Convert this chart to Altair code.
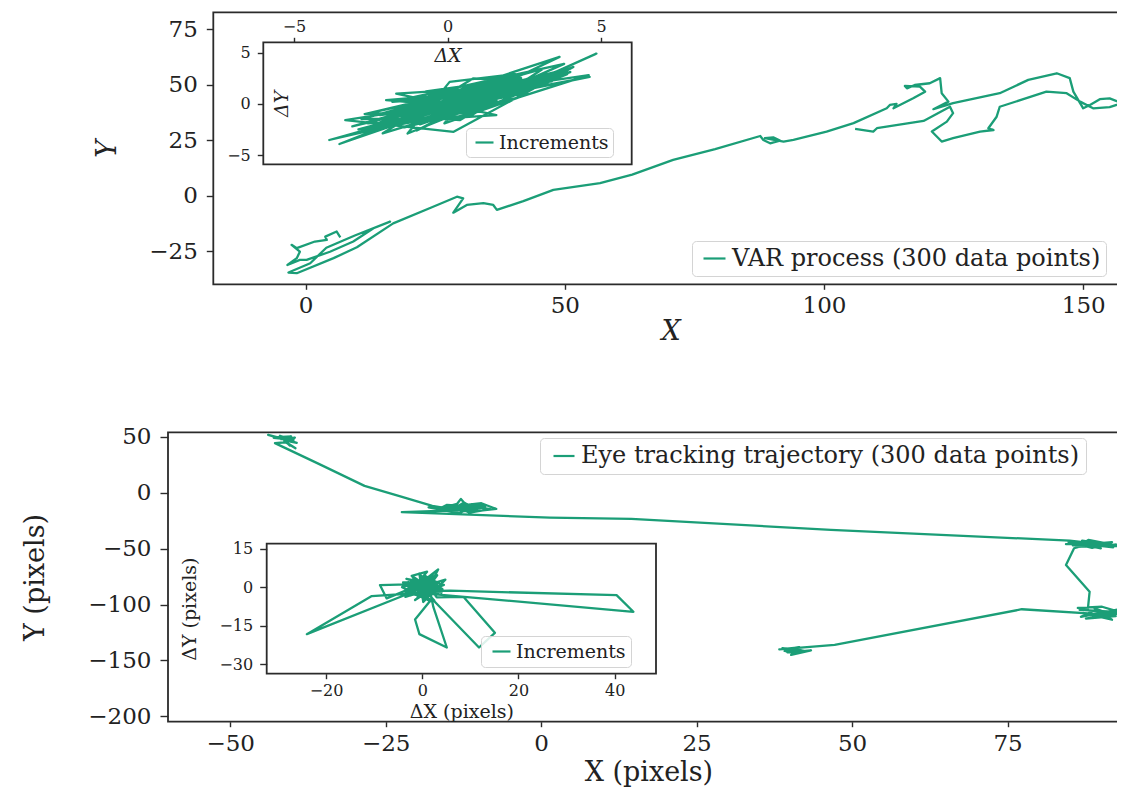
import altair as alt
import pandas as pd

GREEN = "#1b9e77"
DARK = "#2b2b2b"
TXT = "#222222"
FONT = "DejaVu Serif"

# ---------------- top panel: VAR process trajectory ----------------
var_x = [6.7, 6.0, 3.8, 4.1, 1.8, -1.7, -2.7, -1.1, -1.7, -3.5,
         -1.1, 0.2, 4.7, 9.2, 13.1, 16.3, 9.5, 4.0, 0.9, -3.3,
         -1.7, 5.4, 9.9, 16.9, 24.6, 29.2, 30.4, 28.5, 31.1, 34.3,
         36.2, 36.9, 42.0, 47.8, 56.8, 63.0, 70.9, 79.0, 87.7, 88.3,
         89.6, 91.5, 90.2, 88.6, 92.2, 94.1, 100.5, 105.7, 112.1, 112.7,
         114.0, 113.4, 117.2, 119.5, 118.5, 115.6, 116.0, 117.5, 120.4, 122.4,
         122.7, 124.0, 121.1, 124.9, 133.9, 139.4, 144.9, 147.4, 148.1, 149.4,
         150.0, 151.3, 153.2, 155.1, 157.4, 155.1, 151.9, 149.4, 146.8, 142.9,
         133.9, 133.3, 131.7, 132.7, 130.1, 124.9, 122.7, 120.8, 123.7, 124.9,
         124.3, 119.2, 110.2, 109.5, 106.0]
var_y = [-18.8, -16.2, -18.5, -20.0, -20.7, -23.7, -22.2, -25.3, -28.2, -31.3,
         -29.0, -29.0, -25.3, -20.7, -14.7, -11.7, -18.0, -23.5, -30.5, -34.7,
         -35.0, -28.2, -23.3, -12.5, -5.0, -0.5, -1.2, -7.7, -4.2, -3.4,
         -4.2, -6.4, -2.5, 2.6, 5.6, 9.5, 16.1, 21.0, 26.9, 25.1,
         23.6, 24.8, 26.3, 25.9, 24.4, 25.1, 28.9, 32.7, 39.4, 40.9,
         41.4, 39.4, 43.9, 46.9, 49.2, 49.5, 48.4, 49.9, 50.7, 53.0,
         46.2, 42.4, 39.0, 41.7, 46.2, 52.2, 55.2, 53.0, 46.9, 41.7,
         39.4, 40.9, 43.5, 43.9, 41.7, 39.9, 39.4, 42.4, 46.2, 46.9,
         40.1, 35.6, 30.4, 29.6, 28.9, 25.9, 24.4, 28.9, 33.4, 37.2,
         40.1, 33.7, 30.4, 28.9, 30.1]

# increments of the VAR process (inset)
var_dx = [0.0, 1.2, -0.8, 2.1, -1.5, 0.5, 3.0, -0.4, 1.6, -2.2,
          0.9, 3.9, 1.0, -1.9, 2.6, -0.9, 4.6, 0.3, -2.8, 1.9,
          -1.2, 3.65, 0.6, -3.85, 0.1, 2.8, -1.0, 1.4, -2.0, 0.9,
          4.85, 2.0, -0.6, -3.52, 0.4, 3.3, -1.67, 1.59, -2.6, 2.2,
          0.07, -1.3, 4.1, 0.2, -3.33, 1.1, 4.63, -0.5, 2.5, -2.11,
          0.83, 3.4, -0.3, -2.4, 1.7, 4.0, -1.1, 0.6, -2.9, 2.9,
          -0.2, 1.3, -1.6, 3.1, 0.8, -2.4, 1.8, -0.7, 2.4, -1.9, 0.3,
          -1.4, 2.7, -0.9, 3.6, -2.3, 1.0, -0.1, 2.3, -3.0, 1.5,
          -1.8, 3.8, 0.5, -2.7, 2.0, -0.6, 1.2, -1.4, 3.2, 0.0,
          -2.2, 2.6, -0.8, 1.9, -3.1, 0.7, 3.5, -1.0, 0.4, 2.2]
var_dy = [0.0, 0.9, -0.7, 1.6, -1.2, 0.9, 2.4, -1.6, 0.3, -1.1,
          1.5, 2.9, -0.6, -2.2, 2.0, 0.4, 2.8, -1.3, -1.5, 2.4,
          -0.2, 4.58, 0.2, -3.53, -0.8, 2.7, -2.6, 1.2, 0.36, -0.4,
          4.9, 1.0, -0.9, -3.92, 0.7, 1.9, 1.0, -1.1, -1.9, 2.9,
          2.14, -2.9, 3.6, -2.73, -1.59, 0.5, 2.63, -0.3, 1.3, -2.88,
          2.47, 2.2, 0.6, -0.8, 1.9, 3.1, -1.7, -0.2, -2.5, 2.1,
          -1.0, 2.2, -0.5, 3.4, -1.1, -2.0, 0.8, 1.2, 2.5, -1.4, 0.1,
          -0.6, 1.8, -2.0, 2.6, -1.6, 1.9, -1.9, 0.6, -2.9, 0.9,
          0.2, 3.9, -0.5, -1.0, 2.3, 0.8, -0.3, -2.3, 2.9, 0.4,
          -1.8, 1.1, -0.1, 1.4, -2.2, 1.0, 3.1, -1.3, -1.6, 1.7]

# ---------------- bottom panel: eye tracking trajectory ----------------
eye_x = [-41.0, -43.9, -42.5, -40.2, -41.8, -39.6, -40.9, -39.3, -41.5, -40.4,
         -42.0, -40.6, -43.0, -39.8, -41.3,
         -39.5, -41.0, -42.8, -35.5, -28.4, -22.5, -17.5, -15.8, -13.5, -12.9,
         -12.0, -14.8, -10.8, -8.2, -11.5, -13.8, -9.6, -7.2, -10.1, -16.6,
         -15.2, -9.0, -12.6, -8.8, -14.4, -11.0, -16.0, -9.9,
         -18.1, -13.2, -11.3, -14.0, -12.4, -10.5, -22.4, 1.4, 14.5, 46.6,
         85.0, 87.5, 84.4, 90.9, 88.0, 86.2, 92.5, 89.2, 84.8, 88.6,
         91.8, 85.5, 93.4, 87.0, 90.0, 86.0, 92.0, 88.2,
         85.7, 84.4, 88.2, 87.9, 86.3, 90.2, 93.5, 89.5, 87.2, 91.8,
         89.0, 92.4, 87.6, 93.8, 88.3, 91.0, 86.6,
         88.9, 86.8, 92.9, 90.5, 77.3, 47.2, 38.3, 41.5, 39.6, 43.4,
         40.2, 41.0, 42.6, 38.8, 40.8, 39.0]
eye_y = [47.0, 51.6, 49.5, 50.3, 47.8, 49.1, 46.3, 44.5, 48.2, 42.0,
         50.8, 48.0, 49.0, 47.2, 45.6,
         39.7, 45.0, 44.2, 25.0, 6.0, -3.5, -11.9, -13.5, -10.0, -5.6,
         -11.5, -16.2, -12.6, -14.8, -17.9, -12.1, -9.5, -14.6, -16.4, -15.2,
         -11.0, -13.0, -16.8, -11.2, -13.0, -10.2, -14.0, -14.0,
         -13.1, -18.4, -13.4, -14.2, -8.9, -15.3, -17.5, -22.3, -23.5, -33.3,
         -42.9, -44.5, -46.0, -45.3, -42.3, -48.5, -46.5, -47.8, -44.1, -49.4,
         -44.2, -47.2, -47.9, -43.0, -49.8, -45.2, -48.8, -45.8,
         -49.7, -64.6, -88.5, -104.9, -103.0, -102.0, -107.5, -110.8, -107.6, -113.6,
         -103.5, -110.3, -112.5, -105.8, -108.9, -106.2, -104.8,
         -105.4, -111.0, -104.2, -108.8, -104.2, -136.1, -140.0, -138.3, -142.7, -140.9,
         -145.0, -139.6, -142.0, -139.0, -143.6, -141.3]

# increments of the eye trajectory (inset)
eye_dx = [0.0, 2.1, -1.8, 3.5, -2.5, 1.4, -3.2, 4.2, 0.5, -1.0,
          2.8, -4.0, 1.9, -10.5, -24.0, -2.8, 0.8, -8.8, -7.4, -1.2,
          3.3, 0.9, 5.8, 40.4, 43.9, 1.6, -2.0, 2.5, -3.6, 4.8,
          0.2, -0.6, 3.0, 8.6, 15.1, 11.8, 2.0, -1.5, -0.6, 5.1,
          2.3, 1.2, -2.6, 3.9, -0.4, 2.2, -3.0, 0.7, 1.8, -1.6,
          3.4, -2.2, 1.0, -3.5, 4.5, -0.8, 2.6, -1.9, 1.7, -4.2,
          3.1, 0.4, -2.9, 4.0, -0.3, 1.3, -1.5, 2.9, -3.3, 0.6, 0.0]
eye_dy = [0.0, 3.4, -1.2, 1.6, 2.8, -3.5, 0.5, -0.8, 4.6, -4.2,
          2.2, 1.8, -2.0, -3.5, -18.3, -2.5, 1.3, 0.8, -4.4, 0.4,
          6.9, -1.6, -1.4, -3.1, -9.6, -2.6, 3.9, -5.2, -1.8, 2.9,
          -5.8, 5.3, -4.0, -3.8, -17.8, -23.5, -4.5, -12.6, -18.3, -23.5,
          -7.7, 2.5, -3.3, 0.6, -2.1, 5.0, -0.6, -4.8, 1.0, 2.2,
          -2.8, 4.4, 6.0, -3.8, 0.9, -3.0, 3.8, 1.0, -5.5, 0.0,
          4.6, -2.2, 2.0, -2.2, 3.0, -1.0, -5.0, 0.2, 3.2, 1.8, -1.0]

# tick values
var_xticks = [0, 50, 100, 150]
var_yticks = [-25, 0, 25, 50, 75]
var_dxticks = [-5, 0, 5]
var_dyticks = [-5, 0, 5]
eye_xticks = [-50, -25, 0, 25, 50, 75]
eye_yticks = [50, 0, -50, -100, -150, -200]
eye_dxticks = [-20, 0, 20, 40]
eye_dyticks = [15, 0, -15, -30]

W, H = 1109, 779


def make_axis(orient, offset, values, title, lsize, tsize, ticksize, pad,
              italic, title_x=None, title_y=None):
    kw = dict(orient=orient, offset=offset, values=values, title=title,
              format="d", domain=False, grid=False, ticks=True,
              tickSize=ticksize, tickWidth=1.4, tickColor=DARK,
              labelFont=FONT, labelFontSize=lsize, labelColor=TXT,
              labelPadding=pad, labelFlush=False, labelOverlap=False,
              titleFont=FONT, titleFontSize=tsize,
              titleFontStyle="italic" if italic else "normal",
              titleFontWeight="normal", titleColor=TXT,
              titleAlign="center", titleBaseline="middle", zindex=1)
    if orient in ("left", "right"):
        kw["titleAngle"] = 270
    if title_x is not None:
        kw["titleX"] = title_x
    if title_y is not None:
        kw["titleY"] = title_y
    return alt.Axis(**kw)


def make_legend(x, y, size, fsize, pad, soff, loff):
    return alt.Legend(orient="none", legendX=x, legendY=y, title=None,
                      symbolType="stroke", symbolSize=size,
                      symbolStrokeWidth=2.2, labelFont=FONT,
                      labelFontSize=fsize, labelColor=TXT, labelLimit=0,
                      padding=pad, symbolOffset=soff, labelOffset=loff,
                      fillColor="rgba(255,255,255,0.85)",
                      strokeColor="#d4d4d4", cornerRadius=4, zindex=2)


def panel(xs, ys, name, xdom, xrng, ydom, yrng, xaxis, yaxis, legend, lw):
    line_df = pd.DataFrame({"x": xs, "y": ys, "i": list(range(len(xs))),
                            "s": [name] * len(xs)})
    frame_df = pd.DataFrame({"x0": [xdom[0]], "x1": [xdom[1]],
                             "y0": [ydom[0]], "y1": [ydom[1]]})
    sx = alt.Scale(domain=xdom, range=xrng, nice=False, zero=False)
    sy = alt.Scale(domain=ydom, range=yrng, nice=False, zero=False)
    frame = alt.Chart(frame_df).mark_rect(
        fill="white", stroke=DARK, strokeWidth=1.8
    ).encode(
        x=alt.X("x0:Q", scale=sx, axis=xaxis), x2="x1:Q",
        y=alt.Y("y0:Q", scale=sy, axis=yaxis), y2="y1:Q",
    )
    line = alt.Chart(line_df).mark_line(
        strokeWidth=lw, strokeJoin="round"
    ).encode(
        x=alt.X("x:Q", scale=sx, axis=xaxis),
        y=alt.Y("y:Q", scale=sy, axis=yaxis),
        order=alt.Order("i:Q"),
        color=alt.Color("s:N", scale=alt.Scale(domain=[name], range=[GREEN]),
                        legend=legend),
    )
    return alt.layer(frame, line)


# top main panel
pA = panel(
    var_x, var_y, "VAR process (300 data points)",
    [-17.8, 158.6], [205.3, 1119.8], [-40.0, 82.7], [276.3, 4.3],
    make_axis("bottom", 276.3 - H, var_xticks, "X", 23, 27, 5, 5, True,
              title_y=47),
    make_axis("left", -205.3, var_yticks, "Y", 23, 27, 7, 9, True,
              title_x=-106),
    make_legend(684, 233, 484, 24, 5, 5, 5), 2.3)

# top inset
pAi = panel(
    var_dx, var_dy, "Increments",
    [-6.0, 6.0], [255.3, 623.7], [-5.9, 6.0], [156.3, 34.3],
    make_axis("top", -34.3, var_dxticks, "ΔX", 16, 19, 5, 3, True,
              title_y=13),
    make_axis("left", -255.3, var_dyticks, "ΔY", 16, 19, 6, 7, True,
              title_x=18),
    make_legend(458, 120, 324, 19, 4, 4, 4), 2.3)

# bottom main panel
pB = panel(
    eye_x, eye_y, "Eye tracking trajectory (300 data points)",
    [-60.0, 94.5], [160.0, 1120.8], [-204.7, 53.9], [713.7, 424.3],
    make_axis("bottom", 713.7 - H, eye_xticks, "X (pixels)", 23, 27, 5, 6,
              False, title_y=51),
    make_axis("left", -160.0, eye_yticks, "Y (pixels)", 23, 27, 8, 9, False,
              title_x=-133),
    make_legend(532, 430, 441, 24, 6, 6, 5), 2.3)

# bottom inset
pBi = panel(
    eye_dx, eye_dy, "Increments",
    [-32.35, 48.6], [258.7, 648.0], [-33.7, 16.9], [665.7, 535.7],
    make_axis("bottom", 665.7 - H, eye_dxticks, "ΔX (pixels)", 16, 19, 5, 4,
              False, title_y=38),
    make_axis("left", -258.7, eye_dyticks, "ΔY (pixels)", 16, 19, 7, 7,
              False, title_x=-77),
    make_legend(473, 628, 324, 19, 5, 5, 4), 2.3)

chart = alt.layer(pA, pAi, pB, pBi).resolve_scale(
    x="independent", y="independent", color="independent"
).properties(
    width=W, height=H,
    autosize=alt.AutoSizeParams(type="none"),
    padding=0, background="white",
).configure_view(stroke=None)

chart.save("out.html", embed_options={"renderer": "svg", "actions": False})
